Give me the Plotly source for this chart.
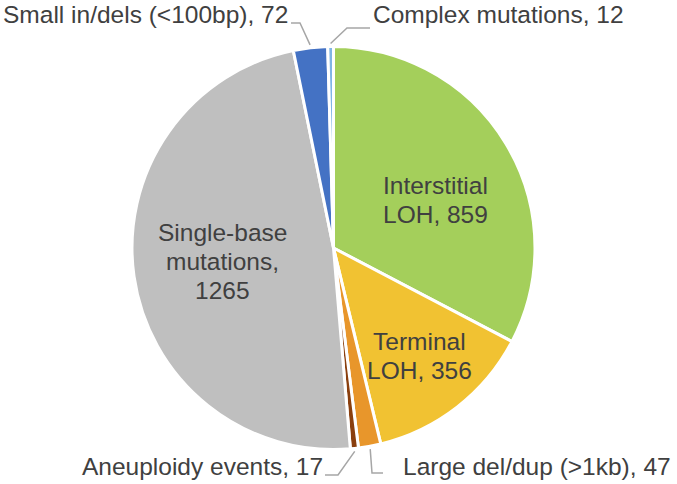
import math
import plotly.graph_objects as go

# ---- data ----
categories = [
    "Interstitial LOH",
    "Terminal LOH",
    "Large del/dup (>1kb)",
    "Aneuploidy events",
    "Single-base mutations",
    "Small in/dels (<100bp)",
    "Complex mutations",
]
counts = [859, 356, 47, 17, 1265, 72, 12]
label_texts = [
    "Interstitial<br>LOH, 859",
    "Terminal<br>LOH, 356",
    "Large del/dup (>1kb), 47",
    "Aneuploidy events, 17",
    "Single-base<br>mutations,<br>1265",
    "Small in/dels (<100bp), 72",
    "Complex mutations, 12",
]

# ---- style / layout ----
colors = ["#A4CF5B", "#F1C232", "#E8962B", "#8A3F0E", "#BFBFBF", "#4472C4", "#7FB5E6"]
W, H = 677, 484
CX, CY, R = 333.5, 248.0, 201.5
FONT = "Liberation Sans, Arial, sans-serif"
TXT = "#404040"
FS = 24.5
LINE_H = 29

# label placement (pixels): inside labels -> block center; outside -> anchor, elbow, end
inside_pos = {0: (435.5, 199.5), 1: (419, 355.5), 4: (222, 261.5)}
outside = {
    5: dict(anchor=(289, 15), elbow=(300, 23), end=(291, 23), xanchor="right"),
    6: dict(anchor=(372, 15), elbow=(347, 28), end=(370, 28), xanchor="left"),
    2: dict(anchor=(402, 466), elbow=(372, 473), end=(383, 473), xanchor="left"),
    3: dict(anchor=(324, 466), elbow=(338, 475), end=(325, 475), xanchor="right"),
}


def px(x):
    return x / W


def py(y):
    return 1 - y / H


fig = go.Figure(
    go.Pie(
        labels=categories,
        values=counts,
        sort=False,
        direction="clockwise",
        rotation=0,
        textinfo="none",
        hoverinfo="label+value",
        marker=dict(colors=colors, line=dict(color="white", width=3)),
        domain=dict(x=[px(CX - R), px(CX + R)], y=[py(CY + R), py(CY - R)]),
    )
)

# slice mid-angles (clockwise from 12 o'clock), derived from the data
total = sum(counts)
mids = []
acc = 0
for v in counts:
    mids.append((acc + v / 2) / total * 2 * math.pi)
    acc += v

annotations = []
shapes = []
for i, t in enumerate(label_texts):
    if i in inside_pos:
        x, y = inside_pos[i]
        lines = t.split("<br>")
        n = len(lines)
        for k, ln in enumerate(lines):
            yy = y + (k - (n - 1) / 2) * LINE_H
            annotations.append(dict(
                x=px(x), y=py(yy), xref="paper", yref="paper", text=ln,
                showarrow=False, xanchor="center", yanchor="middle",
                font=dict(family=FONT, size=FS, color=TXT), borderpad=0,
            ))
    else:
        o = outside[i]
        a = mids[i]
        sx = CX + (R + 3) * math.sin(a)
        sy = CY - (R + 3) * math.cos(a)
        ex, ey = o["elbow"]
        fx, fy = o["end"]
        shapes.append(dict(
            type="path", xref="paper", yref="paper",
            path=f"M {px(sx)} {py(sy)} L {px(ex)} {py(ey)} L {px(fx)} {py(fy)}",
            line=dict(color="#A6A6A6", width=1.5),
        ))
        ax, ay = o["anchor"]
        annotations.append(dict(
            x=px(ax), y=py(ay), xref="paper", yref="paper", text=t,
            showarrow=False, xanchor=o["xanchor"], yanchor="middle",
            font=dict(family=FONT, size=FS, color=TXT), borderpad=0,
        ))

fig.update_layout(
    width=W, height=H,
    margin=dict(l=0, r=0, t=0, b=0),
    paper_bgcolor="white", plot_bgcolor="white",
    showlegend=False,
    annotations=annotations,
    shapes=shapes,
)

fig.write_html(
    "out.html",
    config={"displayModeBar": False},
    post_script="document.body.style.margin='0';document.body.style.padding='0';document.body.style.overflow='hidden';",
)
